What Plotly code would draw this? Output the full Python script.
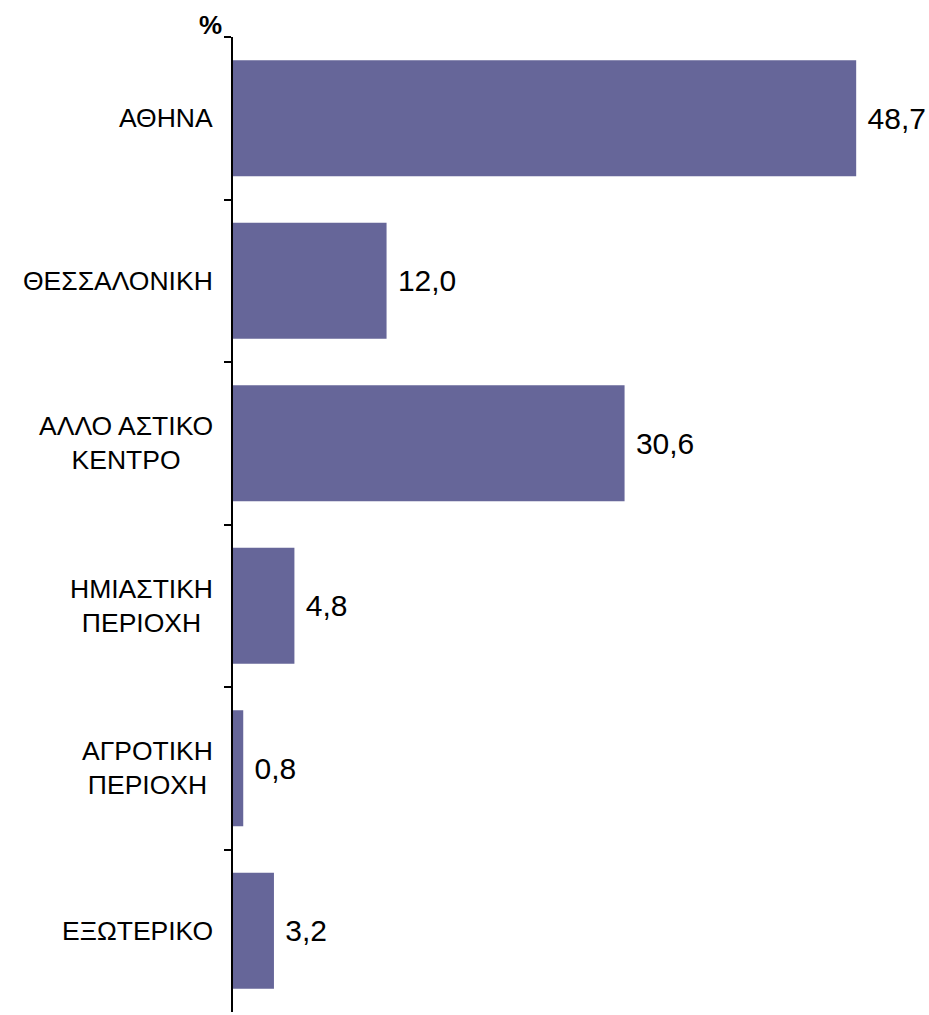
import plotly.graph_objects as go

# Share of respondents by place of residence (%)
categories = ["ΑΘΗΝΑ", "ΘΕΣΣΑΛΟΝΙΚΗ", "ΑΛΛΟ ΑΣΤΙΚΟ<br>ΚΕΝΤΡΟ",
              "ΗΜΙΑΣΤΙΚΗ<br>ΠΕΡΙΟΧΗ", "ΑΓΡΟΤΙΚΗ<br>ΠΕΡΙΟΧΗ", "ΕΞΩΤΕΡΙΚΟ"]
values = [48.7, 12.0, 30.6, 4.8, 0.8, 3.2]
# Greek decimal comma, with a small gap between bar end and label
value_labels = ["\u00a0" + f"{v:.1f}".replace(".", ",") for v in values]

FONT = "Liberation Sans, Arial, sans-serif"
BAR_COLOR = "#666699"

fig = go.Figure(
    go.Bar(
        y=categories,
        x=values,
        orientation="h",
        width=0.714,
        marker=dict(color=BAR_COLOR, line=dict(width=0)),
        text=value_labels,
        textposition="outside",
        textfont=dict(family=FONT, size=30, color="black"),
        cliponaxis=False,
        hoverinfo="skip",
    )
)

# Category names drawn as annotations so two-line names stay centred on each other
for cat in categories:
    fig.add_annotation(
        x=0, y=cat, xref="x", yref="y",
        text=cat, showarrow=False,
        xanchor="right", yanchor="middle", align="center",
        xshift=-18,
        font=dict(family=FONT, size=26.5, color="black"),
    )

# Unit marker above the axis
fig.add_annotation(
    x=-0.0326, y=1.0128, xref="paper", yref="paper",
    text="<b>%</b>", showarrow=False,
    xanchor="center", yanchor="middle",
    font=dict(family=FONT, size=26, color="black"),
)

fig.update_layout(
    width=929, height=1015,
    margin=dict(l=233, r=5, t=37, b=3),
    paper_bgcolor="white",
    plot_bgcolor="white",
    showlegend=False,
    bargap=0.286,
)

fig.update_xaxes(
    range=[0, 54], visible=False, showgrid=False, zeroline=False,
)

fig.update_yaxes(
    categoryorder="array", categoryarray=categories,
    autorange="reversed",
    showgrid=False, zeroline=False,
    showline=True, linecolor="black", linewidth=2,
    ticks="outside", tickson="boundaries", ticklen=7,
    tickwidth=2, tickcolor="black",
    showticklabels=False,
)

fig.write_html("out.html")
